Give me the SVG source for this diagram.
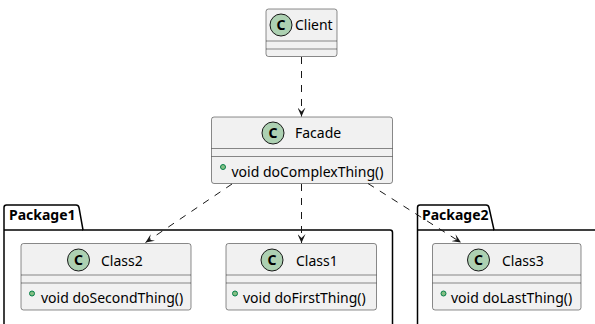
<svg xmlns="http://www.w3.org/2000/svg" width="595" height="324" viewBox="0 0 595 324">
<style>
text{font-family:"Noto Sans","DejaVu Sans",sans-serif;fill:#000}
.cls{fill:#F1F1F1;stroke:#181818;stroke-width:0.5}
.sep{stroke:#181818;stroke-width:0.5}
.circ{fill:#ADD1B2;stroke:#181818;stroke-width:1}
.cl{font-size:14px;font-weight:bold;text-anchor:middle}
.name{font-size:14px}
.meth{font-size:14px}
.dot{fill:#84BE84;stroke:#038048;stroke-width:1}
.pkg{fill:#FFFFFF;stroke:#000;stroke-width:1.5}
.pname{font-size:14px;font-weight:bold}
.edge{fill:none;stroke:#181818;stroke-width:1;stroke-dasharray:7,7}
</style>
<defs>
<marker id="arr" viewBox="0 0 10 8" markerWidth="10" markerHeight="8" refX="9" refY="4" orient="auto" markerUnits="userSpaceOnUse">
<path d="M0,0 L9,4 L0,8 L4,4 Z" fill="#181818"/>
</marker>
</defs>
<g id="Package1">
<path class="pkg" d="M4,330 L4,207.5 Q4,205 6.5,205 L76,205 Q78.5,205 79,207.5 L83,230 L390,230 Q392.5,230 392.5,232.5 L392.5,330"/>
<line x1="4" y1="230" x2="83" y2="230" stroke="#000" stroke-width="1.5"/>
<text class="pname" x="9" y="220">Package1</text>
</g>
<g id="Package2">
<path class="pkg" d="M417.5,330 L417.5,207.5 Q417.5,205 420,205 L486,205 Q488.5,205 489,207.5 L494,230 L600,230"/>
<line x1="417.5" y1="230" x2="494" y2="230" stroke="#000" stroke-width="1.5"/>
<text class="pname" x="422" y="220">Package2</text>
</g>
<g id="Client">
<rect class="cls" x="266" y="9" width="71" height="47.5" rx="2.5"/>
<line class="sep" x1="266" y1="41" x2="337" y2="41"/>
<line class="sep" x1="266" y1="49" x2="337" y2="49"/>
<circle class="circ" cx="281" cy="25" r="11"/>
<text class="cl" x="281" y="30">C</text>
<text class="name" x="295" y="30">Client</text>
</g>
<g id="Facade">
<rect class="cls" x="211.5" y="117" width="181" height="66.5" rx="2.5"/>
<line class="sep" x1="211.5" y1="148.5" x2="392.5" y2="148.5"/>
<line class="sep" x1="211.5" y1="156.5" x2="392.5" y2="156.5"/>
<circle class="circ" cx="273" cy="133" r="11"/>
<text class="cl" x="273" y="138">C</text>
<text class="name" x="295" y="138">Facade</text>
<circle class="dot" cx="223" cy="167" r="2.5"/>
<text class="meth" x="231.5" y="176.5">void doComplexThing()</text>
</g>
<g id="Class2">
<rect class="cls" x="21" y="243.5" width="170" height="66.5" rx="2.5"/>
<line class="sep" x1="21" y1="275" x2="191" y2="275"/>
<line class="sep" x1="21" y1="283" x2="191" y2="283"/>
<circle class="circ" cx="78.5" cy="260" r="11"/>
<text class="cl" x="78.5" y="265">C</text>
<text class="name" x="101" y="265.5">Class2</text>
<circle class="dot" cx="32" cy="293.5" r="2.5"/>
<text class="meth" x="41" y="303">void doSecondThing()</text>
</g>
<g id="Class1">
<rect class="cls" x="226" y="243.5" width="150.5" height="66.5" rx="2.5"/>
<line class="sep" x1="226" y1="275" x2="376.5" y2="275"/>
<line class="sep" x1="226" y1="283" x2="376.5" y2="283"/>
<circle class="circ" cx="272" cy="260" r="11"/>
<text class="cl" x="272" y="265">C</text>
<text class="name" x="296" y="265.5">Class1</text>
<circle class="dot" cx="235" cy="293.5" r="2.5"/>
<text class="meth" x="243" y="303">void doFirstThing()</text>
</g>
<g id="Class3">
<rect class="cls" x="432.5" y="243.5" width="148.5" height="66.5" rx="2.5"/>
<line class="sep" x1="432.5" y1="275" x2="581" y2="275"/>
<line class="sep" x1="432.5" y1="283" x2="581" y2="283"/>
<circle class="circ" cx="478.5" cy="260" r="11"/>
<text class="cl" x="478.5" y="265">C</text>
<text class="name" x="502" y="265.5">Class3</text>
<circle class="dot" cx="443.5" cy="293.5" r="2.5"/>
<text class="meth" x="451" y="303">void doLastThing()</text>
</g>
<g id="connectors">
<path class="edge" d="M301.5,57 L301.5,116.5" marker-end="url(#arr)"/>
<path class="edge" d="M232,184 L145.5,242.5" marker-end="url(#arr)"/>
<path class="edge" d="M301.5,184 L301.5,243" marker-end="url(#arr)"/>
<path class="edge" d="M368,183.5 L461,242.5" marker-end="url(#arr)"/>
</g>
</svg>
